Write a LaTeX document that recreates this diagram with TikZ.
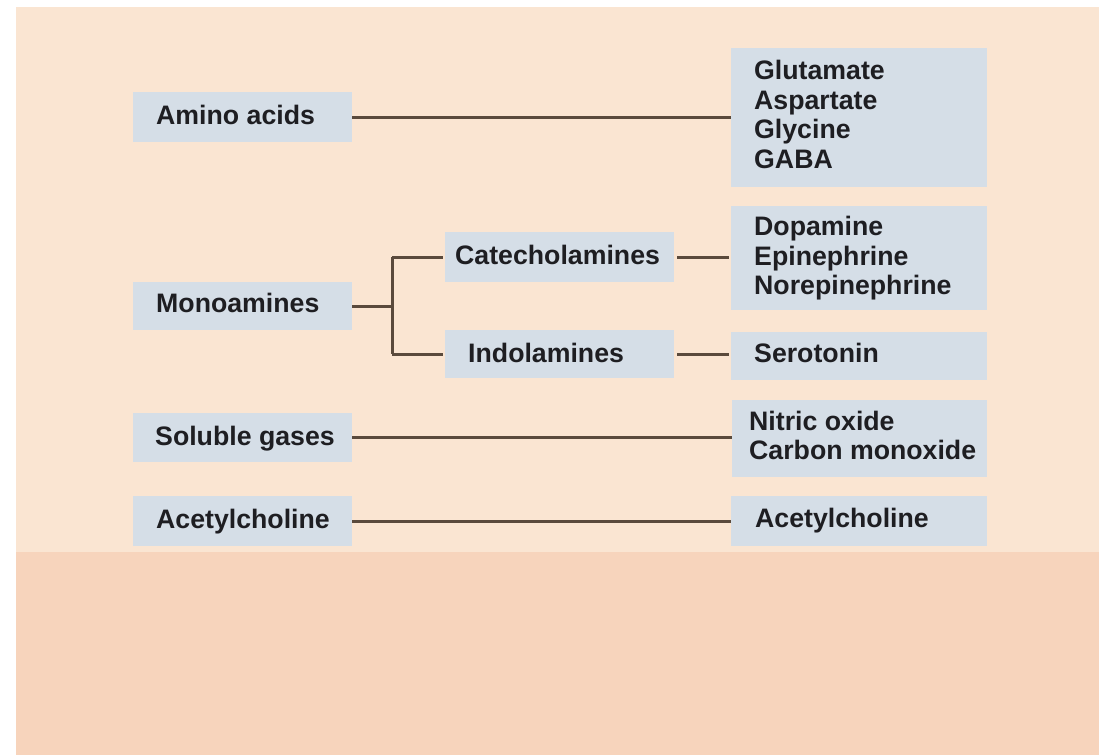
\documentclass[tikz,border=0pt]{standalone}
\usepackage{fontspec}
\setmainfont{Liberation Sans}
\definecolor{bgtop}{HTML}{FAE5D2}
\definecolor{bgbot}{HTML}{F7D4BC}
\definecolor{boxfill}{HTML}{D5DEE7}
\definecolor{linecol}{HTML}{5A4A3C}
\definecolor{txt}{HTML}{1E1E22}
\tikzset{
  bx/.style 2 args={draw=none, fill=boxfill, rectangle, minimum width=#1, minimum height=#2, inner sep=0pt},
  lbl/.style={anchor=base west, inner sep=0pt, align=left, text=txt,
    font=\bfseries\fontsize{26.7}{29.5}\selectfont},
  conn/.style={draw=linecol, line width=3pt}
}
\begin{document}
\begin{tikzpicture}[x=1pt,y=-1pt]
\useasboundingbox (0,0) rectangle (1101,755);
\fill[white] (0,0) rectangle (1101,755);
\fill[bgtop] (16,7) rectangle (1099,552);
\fill[bgbot] (16,552) rectangle (1099,755);

% boxes, left column
\node[bx={219}{50}] (amino) at (242.5,117) {};
\node[bx={219}{48}] (mono) at (242.5,306) {};
\node[bx={219}{49}] (gases) at (242.5,437.5) {};
\node[bx={219}{50}] (achL) at (242.5,521) {};
% middle column
\node[bx={229}{50}] (cat) at (559.5,257) {};
\node[bx={229}{48}] (ind) at (559.5,354) {};
% right column
\node[bx={256}{139}] (glu) at (859,117.5) {};
\node[bx={256}{104}] (dop) at (859,258) {};
\node[bx={256}{48}] (ser) at (859,356) {};
\node[bx={255}{77}] (gas) at (859.5,438.5) {};
\node[bx={256}{50}] (achR) at (859,520.5) {};

% labels (base = baseline of the last line)
\node[lbl] (tamino) at (156,124) {Amino acids};
\node[lbl] (tmono) at (156,312.5) {Monoamines};
\node[lbl] (tgases) at (155,445.5) {Soluble gases};
\node[lbl] (tachL) at (156,528) {Acetylcholine};
\node[lbl] (tcat) at (455,264.5) {Catecholamines};
\node[lbl] (tind) at (468,362) {Indolamines};
\node[lbl] (tglu) at (754,168) {Glutamate\\Aspartate\\Glycine\\GABA};
\node[lbl] (tdop) at (754,294.5) {Dopamine\\Epinephrine\\Norepinephrine};
\node[lbl] (tser) at (754,362) {Serotonin};
\node[lbl] (tgas) at (749,459.5) {Nitric oxide\\Carbon monoxide};
\node[lbl] (tachR) at (755,527.5) {Acetylcholine};

% connectors
\draw[conn] (amino.east) -- (amino.east -| glu.west);
\coordinate (br) at ([xshift=40pt]mono.east);
\draw[conn] (mono.east) -- (br);
\draw[conn] (br |- cat.west) -- (br |- ind.west);
\draw[conn] (br |- cat.west) -- ([xshift=-2pt]cat.west);
\draw[conn] (br |- ind.west) -- ([xshift=-2pt]ind.west);
\draw[conn] ([xshift=3pt]cat.east) -- ([xshift=-2pt]cat.east -| dop.west);
\draw[conn] ([xshift=3pt]ind.east) -- ([xshift=-2pt]ind.east -| ser.west);
\draw[conn] (gases.east) -- (gases.east -| gas.west);
\draw[conn] (achL.east) -- (achL.east -| achR.west);
\end{tikzpicture}
\end{document}
